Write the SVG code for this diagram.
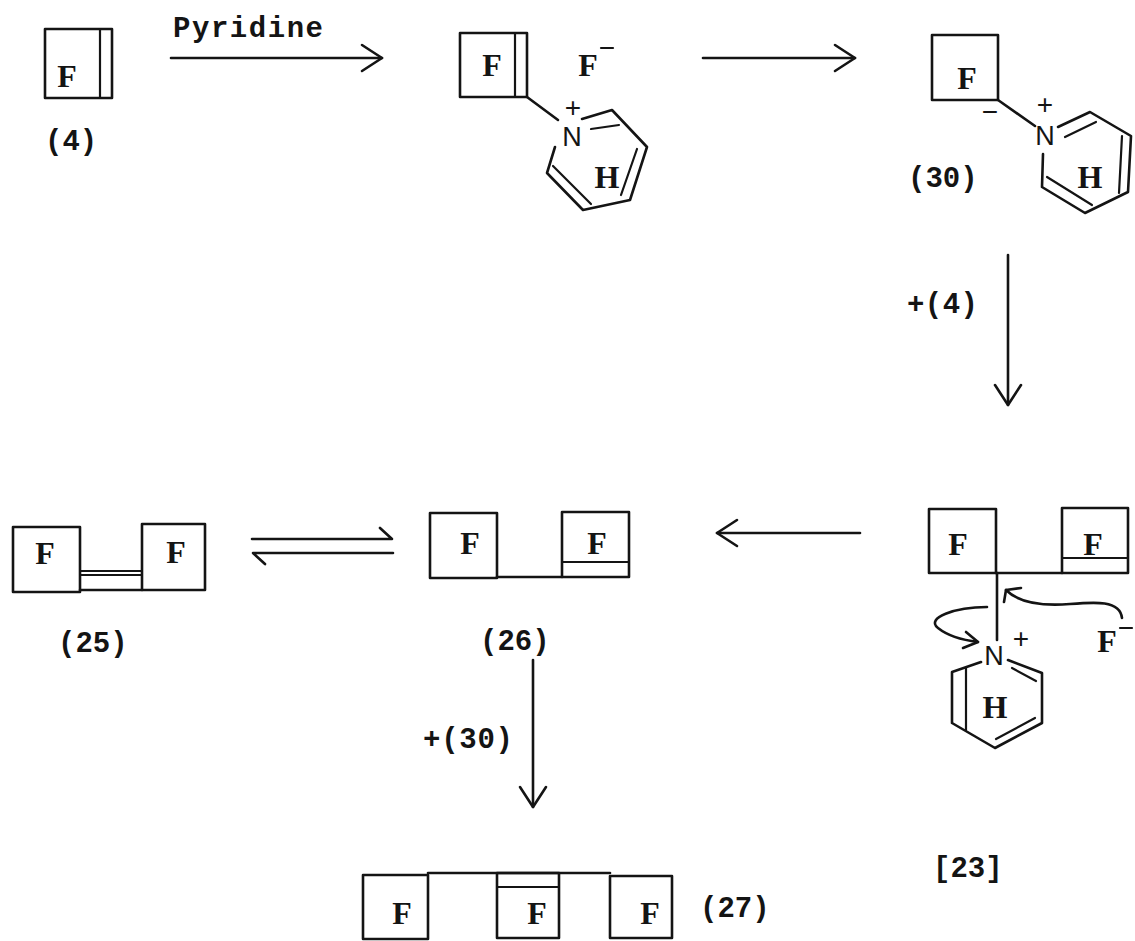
<svg xmlns="http://www.w3.org/2000/svg" width="1135" height="941" viewBox="0 0 1135 941">
<defs>
<style>
.s{fill:none;stroke:#141414;stroke-width:2.6;stroke-linecap:round;stroke-linejoin:round}
.t{fill:none;stroke:#141414;stroke-width:2.2;stroke-linecap:round}
.f{font-family:"Liberation Serif","DejaVu Serif",serif;font-weight:bold;font-size:32px;fill:#141414;text-anchor:middle}
.l{font-family:"Liberation Mono","DejaVu Sans Mono",monospace;font-weight:bold;font-size:29px;fill:#141414}
.n{font-family:"Liberation Sans",Arial,sans-serif;font-size:27px;fill:#141414;text-anchor:middle}
.p{font-family:"Liberation Sans",Arial,sans-serif;font-size:28px;fill:#141414;text-anchor:middle}
</style>
<marker id="ah" viewBox="0 0 24 30" refX="22" refY="15" markerWidth="24" markerHeight="30" markerUnits="userSpaceOnUse" orient="auto">
<path d="M2,2 L22,15 L2,28" fill="none" stroke="#141414" stroke-width="2.6" stroke-linecap="round" stroke-linejoin="round"/>
</marker>
</defs>
<rect width="1135" height="941" fill="#ffffff"/>

<g id="node-4">
<rect class="s" x="45" y="29" width="67" height="69"/>
<line class="t" x1="100" y1="29" x2="100" y2="98"/>
<text class="f" x="67" y="87">F</text>
<text class="l" x="45" y="150" font-size="26">(4)</text>
</g>

<g id="node-adduct">
<rect class="s" x="460" y="33" width="67" height="64"/>
<line class="t" x1="515" y1="33" x2="515" y2="97"/>
<text class="f" x="492" y="76">F</text>
<text class="f" x="588" y="76">F</text>
<line class="t" x1="601" y1="48" x2="613" y2="48"/>
<line class="s" x1="527" y1="97" x2="558" y2="120"/>
<text class="p" x="573" y="117">+</text>
<text class="n" x="572" y="146">N</text>
<path class="s" d="M582,119 L612,110 L647,147 L630,200 L583,210 L547,173 L555,147"/>
<line class="t" x1="591" y1="129" x2="619" y2="125"/>
<line class="t" x1="637" y1="149" x2="621" y2="195"/>
<line class="t" x1="553" y1="166" x2="591" y2="204"/>
<text class="f" x="607" y="188">H</text>
</g>

<g id="node-30">
<rect class="s" x="932" y="35" width="66" height="65"/>
<text class="f" x="967" y="89">F</text>
<text class="p" x="990" y="121" font-size="22">−</text>
<line class="s" x1="998" y1="100" x2="1035" y2="126"/>
<text class="p" x="1045" y="114">+</text>
<text class="n" x="1045" y="145">N</text>
<path class="s" d="M1058,127 L1090,112 L1131,136 L1128,192 L1085,213 L1042,187 L1043,154"/>
<line class="t" x1="1065" y1="137" x2="1096" y2="122"/>
<line class="t" x1="1122" y1="136" x2="1119" y2="193"/>
<line class="t" x1="1047" y1="177" x2="1092" y2="205"/>
<text class="f" x="1090" y="188">H</text>
<text class="l" x="908" y="187">(30)</text>
</g>

<g id="node-23">
<rect class="s" x="929" y="509" width="67" height="64"/>
<rect class="s" x="1062" y="508" width="66" height="65"/>
<line class="t" x1="1062" y1="558" x2="1128" y2="558"/>
<line class="s" x1="996" y1="573" x2="1062" y2="573"/>
<text class="f" x="958" y="555">F</text>
<text class="f" x="1093" y="555">F</text>
<line class="s" x1="997" y1="573" x2="997" y2="640"/>
<text class="n" x="994" y="665">N</text>
<text class="p" x="1021" y="648" font-size="32">+</text>
<path class="s" d="M981,662 L952,672 L952,723 L995,748 L1042,723 L1042,673 L1008,660"/>
<line class="t" x1="966" y1="668" x2="966" y2="730"/>
<line class="t" x1="1012" y1="668" x2="1036" y2="681"/>
<line class="t" x1="996" y1="739" x2="1035" y2="718"/>
<text class="f" x="995" y="718">H</text>
<text class="f" x="1107" y="652">F</text>
<line class="t" x1="1120" y1="628" x2="1132" y2="628"/>
<text class="l" x="933" y="877" font-size="32">[23]</text>
</g>

<g id="node-26">
<rect class="s" x="430" y="513" width="67" height="65"/>
<rect class="s" x="562" y="512" width="67" height="65"/>
<line class="t" x1="562" y1="562" x2="629" y2="562"/>
<line class="s" x1="497" y1="577" x2="562" y2="577"/>
<text class="f" x="470" y="554">F</text>
<text class="f" x="597" y="554">F</text>
<text class="l" x="480" y="650">(26)</text>
</g>

<g id="node-25">
<rect class="s" x="13" y="527" width="67" height="65"/>
<rect class="s" x="142" y="524" width="63" height="66"/>
<line class="t" x1="80" y1="571" x2="142" y2="571"/>
<line class="t" x1="80" y1="575" x2="142" y2="575"/>
<line class="s" x1="80" y1="590" x2="142" y2="590"/>
<text class="f" x="45" y="564">F</text>
<text class="f" x="176" y="563">F</text>
<text class="l" x="58" y="652">(25)</text>
</g>

<g id="node-27">
<rect class="s" x="363" y="875" width="65" height="64"/>
<rect class="s" x="497" y="873" width="62" height="65"/>
<line class="t" x1="497" y1="887" x2="559" y2="887"/>
<rect class="s" x="610" y="876" width="62" height="62"/>
<line class="s" x1="428" y1="873" x2="610" y2="873"/>
<text class="f" x="402" y="924">F</text>
<text class="f" x="537" y="924">F</text>
<text class="f" x="650" y="924">F</text>
<text class="l" x="700" y="917">(27)</text>
</g>

<g id="connectors">
<line class="s" x1="171" y1="58" x2="382" y2="58" marker-end="url(#ah)"/>
<text class="l" x="173" y="37" font-size="28" textLength="150">Pyridine</text>
<line class="s" x1="703" y1="58" x2="855" y2="58" marker-end="url(#ah)"/>
<line class="s" x1="1008" y1="255" x2="1008" y2="405" marker-end="url(#ah)"/>
<text class="l" x="907" y="313" font-size="28" textLength="71">+(4)</text>
<line class="s" x1="860" y1="533" x2="717" y2="533" marker-end="url(#ah)"/>
<path class="s" d="M252,539 L392,539 L380,528"/>
<path class="s" d="M393,553 L253,553 L265,564"/>
<line class="s" x1="533" y1="660" x2="533" y2="807" marker-end="url(#ah)"/>
<text class="l" x="423" y="748" font-size="29" textLength="90">+(30)</text>
<path class="s" d="M987,607 C955,607 925,618 938,628 C948,636 962,640 978,642"/>
<path class="s" d="M966,632 L978,642 L963,648"/>
<path class="s" d="M1122,618 C1120,600 1095,602 1070,604 C1045,606 1020,604 1006,590"/>
<path class="s" d="M1004,602 L1006,590 L1021,588"/>
</g>
</svg>
